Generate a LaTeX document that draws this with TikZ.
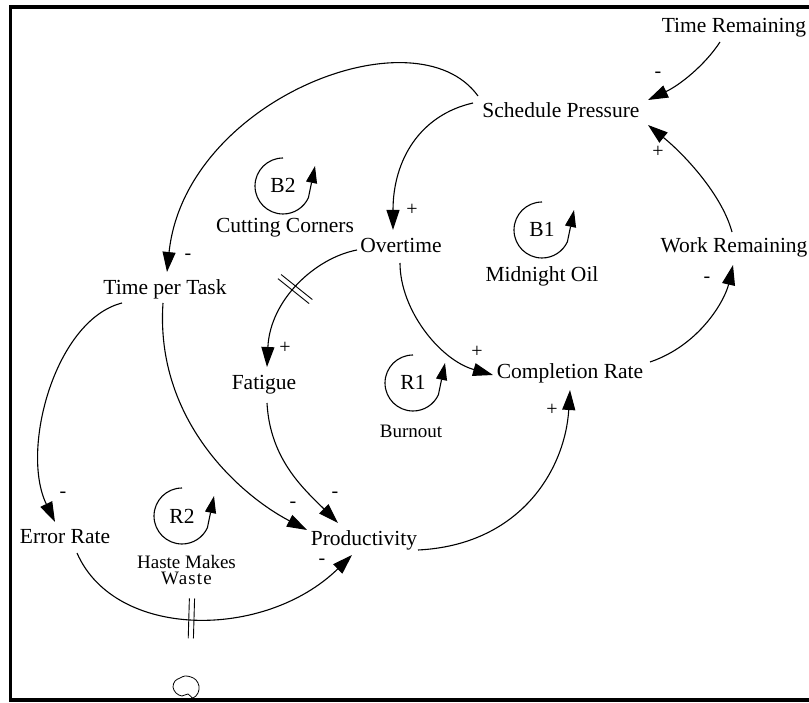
\documentclass[tikz,border=0pt]{standalone}
\usepackage{fontspec}
\setmainfont{Liberation Serif}
\usetikzlibrary{arrows.meta,decorations.markings}

\begin{document}
\begin{tikzpicture}[x=1pt,y=-1pt,
  var/.style={font=\fontsize{21.5}{24}\selectfont, inner sep=0pt, anchor=base},
  small/.style={font=\fontsize{19}{20}\selectfont, inner sep=0pt, anchor=base},
  sign/.style={font=\fontsize{20}{20}\selectfont, inner sep=0pt},
  link/.style={line width=1.1pt, -{Triangle[length=20pt,width=13pt]}},
  looparrow/.style={line width=1.1pt, -{Triangle[length=17pt,width=11pt]}},
  delaymark/.style={postaction={decorate, decoration={markings,
      mark=at position #1 with {\draw[-, line width=0.9pt] (-2.6pt,-20pt) -- (-2.6pt,20pt) (2.6pt,-20pt) -- (2.6pt,20pt);}}}},
]
\useasboundingbox (0,0) rectangle (809,703);

% frame
\draw[line width=3.5pt] (809,7) -- (10.5,7) -- (10.5,700) -- (809,700);

% variables
\node[var] (tr)   at (734,33)  {Time Remaining};
\node[var] (sp)   at (561,118) {Schedule Pressure};
\node[var] (ot)   at (401,253) {Overtime};
\node[var] (wr)   at (734,253) {Work Remaining};
\node[var] (tpt)  at (165,295) {Time per Task};
\node[var] (fat)  at (264,390) {Fatigue};
\node[var] (cr)   at (570,378) {Completion Rate};
\node[var] (er)   at (65,543)  {Error Rate};
\node[var] (prod) at (364,545) {Productivity};

% loop identifiers
\node[var] (b2)  at (283,193) {B2};
\node[var] (b2n) at (285,233) {Cutting Corners};
\node[var] (b1)  at (542,237) {B1};
\node[var] (b1n) at (542,282) {Midnight Oil};
\node[var] (r1)  at (413,390) {R1};
\node[small] (r1n) at (411,437) {Burnout};
\node[var] (r2)  at (182,523) {R2};
\node[font=\fontsize{19}{16}\selectfont, inner sep=0pt, align=center, anchor=center]
  (r2n) at (186.5,570) {Haste Makes\\{\addfontfeature{LetterSpace=6}Waste}};

\coordinate (b2c) at (283,186);
\coordinate (b1c) at (542,230);
\coordinate (r1c) at (413,383);
\coordinate (r2c) at (182,516);
\foreach \c in {b2c,b1c,r1c,r2c}{
  \draw[looparrow] ([shift={(0,-28)}]\c) arc[start angle=90,end angle=335,radius=28pt]
    -- ([shift={(32,-20)}]\c);
}

% causal links
\draw[link] ([shift={(-14,9)}]tr.base) .. controls +(-15,23) and +(32,-15) .. ([shift={(87,-18)}]sp.base);
\draw[link] ([shift={(-2,-21)}]wr.base) .. controls +(-10,-37) and +(37,30) .. ([shift={(87,7)}]sp.base);
\draw[link] ([shift={(-88,-15)}]sp.base) .. controls +(-53,12) and +(0,-70) .. ([shift={(-8,-23)}]ot.base);
\draw[link] ([shift={(-1,10)}]ot.base) .. controls +(0,47) and +(-53,-15) .. ([shift={(-77,-3)}]cr.base);
\draw[link,delaymark=0.47] ([shift={(-44,-3)}]ot.base) .. controls +(-42,8) and +(3,-67) .. ([shift={(3,-23)}]fat.base);
\draw[link] ([shift={(-83,-22)}]sp.base) .. controls +(-62,-86) and +(18,-172) .. ([shift={(2,-23)}]tpt.base);
\draw[link] ([shift={(-43,8)}]tpt.base) .. controls +(-67,17) and +(-35,-72) .. ([shift={(-10,-21)}]er.base);
\draw[link] ([shift={(-2,8)}]tpt.base) .. controls +(-8,117) and +(-67,-35) .. ([shift={(-57,-15)}]prod.base);
\draw[link] ([shift={(3,13)}]fat.base) .. controls +(3,57) and +(-33,-33) .. ([shift={(-26,-22)}]prod.base);
\draw[link,delaymark=0.44] ([shift={(12,10)}]er.base) .. controls +(38,87) and +(-87,85) .. ([shift={(-12,10)}]prod.base);
\draw[link] ([shift={(54,5)}]prod.base) .. controls +(102,-5) and +(-5,80) .. ([shift={(0,12)}]cr.base);
\draw[link] ([shift={(80,-16)}]cr.base) .. controls +(50,-17) and +(-8,35) .. ([shift={(-1,12)}]wr.base);

% polarities
\node[sign] at (658,75)  {-};
\node[sign] at (658,152) {+};
\node[sign] at (412,210) {+};
\node[sign] at (188,257) {-};
\node[sign] at (285,348) {+};
\node[sign] at (477,352) {+};
\node[sign] at (552,410) {+};
\node[sign] at (707,280) {-};
\node[sign] at (63,495)  {-};
\node[sign] at (293,505) {-};
\node[sign] at (335,495) {-};
\node[sign] at (322,562) {-};

% source cloud
\draw[line width=0.8pt] plot[smooth cycle, tension=0.6] coordinates {
  (193,698) (188,694) (182,696) (176,693) (173,687) (175,681) (180,678)
  (185,676) (191,677) (196,680) (199,686) (198,693)};
\end{tikzpicture}
\end{document}
